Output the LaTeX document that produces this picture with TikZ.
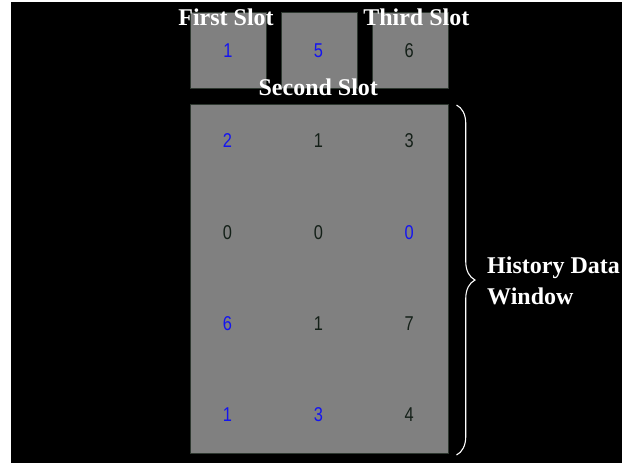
\documentclass[tikz,border=0pt]{standalone}
\usepackage{fontspec}
\setmainfont{Liberation Serif}
\newfontfamily\digitfont{Liberation Sans}
\usetikzlibrary{decorations.pathreplacing}
\definecolor{cellgray}{HTML}{808080}
\definecolor{celledge}{HTML}{2E3830}
\definecolor{numblue}{HTML}{1414F0}
\definecolor{numdark}{HTML}{142018}
\newcommand{\narrowdigit}[1]{\scalebox{0.82}[1]{#1}}
\tikzset{
  cellbox/.style={draw=celledge, fill=cellgray, line width=0.8pt, inner sep=0pt},
  num/.style={font=\digitfont\fontsize{20}{20}\selectfont, inner sep=0pt, anchor=center},
  bnum/.style={num, text=numblue},
  knum/.style={num, text=numdark},
  lbl/.style={font=\bfseries\fontsize{24}{24}\selectfont, text=white, inner sep=0pt, anchor=base},
}
\begin{document}
\begin{tikzpicture}[x=1pt, y=-1pt]
  \useasboundingbox (0,0) rectangle (622,464);
  \fill[white] (0,0) rectangle (622,464);
  \fill[black] (11,2) rectangle (622,463);

  % three slots on top
  \node[cellbox, minimum width=76.7pt, minimum height=76pt] (slotA) at (228.3,50.3) {};
  \node[cellbox, minimum width=76.7pt, minimum height=76pt] (slotB) at (319.3,50.3) {};
  \node[cellbox, minimum width=76pt, minimum height=76pt] (slotC) at (410.3,50.3) {};
  \node[bnum] (vA) at (228,50.5) {\narrowdigit{1}};
  \node[bnum] (vB) at (318.5,50.5) {\narrowdigit{5}};
  \node[knum] (vC) at (409.3,50.5) {\narrowdigit{6}};

  % history window
  \node[cellbox, minimum width=258.3pt, minimum height=349pt] (hist) at (319.2,278.8) {};
  \node[bnum] (h11) at (227.5,141) {\narrowdigit{2}};
  \node[knum] (h12) at (318.5,141) {\narrowdigit{1}};
  \node[knum] (h13) at (409.3,141) {\narrowdigit{3}};
  \node[knum] (h21) at (227.5,233) {\narrowdigit{0}};
  \node[knum] (h22) at (318.5,233) {\narrowdigit{0}};
  \node[bnum] (h23) at (409.3,233) {\narrowdigit{0}};
  \node[bnum] (h31) at (227.5,323.5) {\narrowdigit{6}};
  \node[knum] (h32) at (318.5,323.5) {\narrowdigit{1}};
  \node[knum] (h33) at (409.3,323.5) {\narrowdigit{7}};
  \node[bnum] (h41) at (227.5,414.5) {\narrowdigit{1}};
  \node[bnum] (h42) at (318.5,414.5) {\narrowdigit{3}};
  \node[knum] (h43) at (409.3,414.5) {\narrowdigit{4}};

  % labels
  \node[lbl] (lA) at (226,25.7) {First Slot};
  \node[lbl] (lC) at (416.3,25.7) {Third Slot};
  \node[lbl] (lB) at (318.3,95) {Second Slot};
  \node[lbl, anchor=base west] (lH1) at (487,273.3) {History Data};
  \node[lbl, anchor=base west] (lH2) at (487,304) {Window};

  % brace spanning the history window
  \coordinate (braceTop) at (456.5,105);
  \coordinate (braceBot) at (456.5,455);
  \draw[white, line width=1.1pt, decorate, decoration={brace, amplitude=18.5pt}]
    (braceTop) -- (braceBot);
\end{tikzpicture}
\end{document}
